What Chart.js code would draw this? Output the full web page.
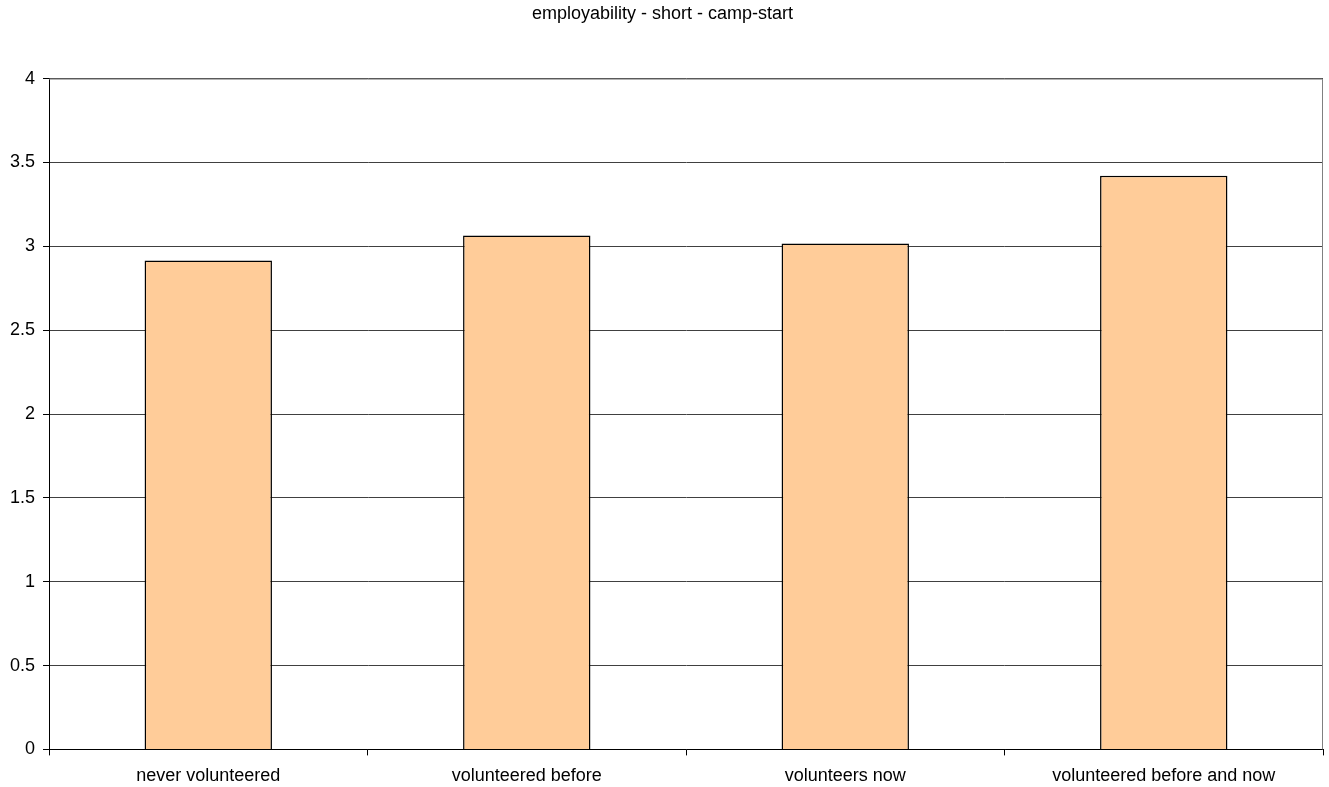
<!DOCTYPE html>
<html>
<head>
<meta charset="utf-8">
<script src="https://cdn.jsdelivr.net/npm/chart.js@4"></script>
<style>
  html, body { margin: 0; padding: 0; background: #fff; }
  #wrap { width: 1329px; height: 787px; }
</style>
</head>
<body>
<div id="wrap"><canvas id="barChart"></canvas></div>
<script>
const categories = ['never volunteered', 'volunteered before', 'volunteers now', 'volunteered before and now'];
const scores = [2.915, 3.065, 3.017, 3.42];
const yTicks = [0, 0.5, 1, 1.5, 2, 2.5, 3, 3.5, 4];

// frame round the plot area, like the original
const plotFrame = {
    id: 'plotFrame',
    afterDraw(chart) {
        const a = chart.chartArea;
        const c = chart.ctx;
        c.save();
        c.strokeStyle = '#808080';
        c.lineWidth = 1;
        c.beginPath();
        c.moveTo(a.left, a.top + 0.5);
        c.lineTo(a.right - 0.5, a.top + 0.5);
        c.lineTo(a.right - 0.5, a.bottom);
        c.stroke();
        c.restore();
    }
};

Chart.defaults.font.family = '"Liberation Sans", Arial, sans-serif';
Chart.defaults.color = '#000';

new Chart(document.getElementById('barChart'), {
    type: 'bar',
    data: {
        labels: categories,
        datasets: [{
            label: 'employability',
            data: scores,
            backgroundColor: '#FFCC99',
            borderColor: '#000',
            borderWidth: 1.5,
            barPercentage: 0.4,
            categoryPercentage: 1.0
        }]
    },
    options: {
        responsive: true,
        maintainAspectRatio: false,
        animation: false,
        layout: {
            padding: { left: 2, right: 6, top: 0, bottom: -10 }
        },
        plugins: {
            legend: { display: false },
            tooltip: { enabled: false },
            title: {
                display: true,
                text: 'employability - short - camp-start',
                font: { size: 18, weight: 'normal' },
                padding: { top: 3, bottom: 54 }
            }
        },
        scales: {
            y: {
                min: 0,
                max: 4,
                afterBuildTicks(axis) {
                    axis.ticks = yTicks.map(v => ({ value: v }));
                },
                ticks: {
                    font: { size: 18 },
                    padding: 8,
                    callback: v => String(v)
                },
                grid: {
                    color: '#404040',
                    lineWidth: 1,
                    tickLength: 6,
                    tickColor: '#000'
                },
                border: { color: '#000', width: 1 }
            },
            x: {
                ticks: {
                    font: { size: 18 },
                    padding: 10,
                    maxRotation: 0
                },
                grid: {
                    offset: true,
                    drawOnChartArea: false,
                    tickLength: 6,
                    tickColor: '#000'
                },
                border: { color: '#000', width: 1 }
            }
        }
    },
    plugins: [plotFrame]
});
</script>
</body>
</html>
